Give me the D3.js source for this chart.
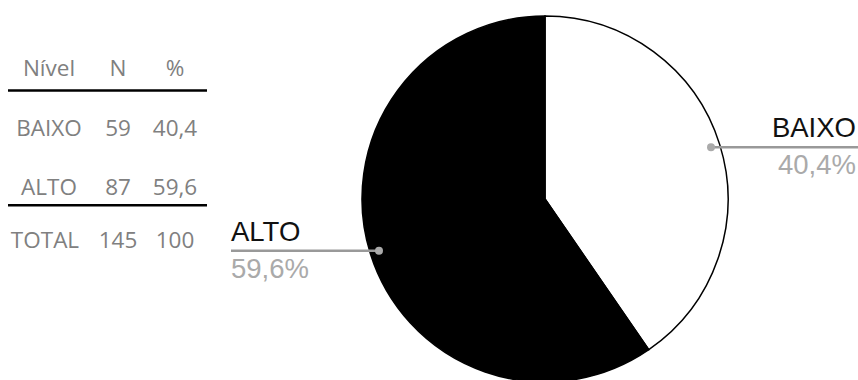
<!DOCTYPE html>
<html>
<head>
<meta charset="utf-8">
<script src="https://cdn.jsdelivr.net/npm/d3@7"></script>
<style>
  body { margin: 0; background: #fff; }
  svg { display: block; }
</style>
</head>
<body>
<div id="chart"></div>
<script>
// data
var niveis = ["BAIXO", "ALTO"];
var contagens = [59, 87];
var percentuais = [40.4, 59.6];
var tabelaCabecalho = ["Nível", "N", "%"];
var tabelaTotal = ["TOTAL", "145", "100"];

var width = 858;
var height = 380;

var svg = d3.select("#chart").append("svg")
    .attr("width", width)
    .attr("height", height);

var fmt = function (v) { return d3.format(".1f")(v).replace(".", ","); };

// ---- table on the left
var colX = [49, 118, 175];
var tbl = svg.append("g")
    .attr("font-family", "'Open Sans', sans-serif")
    .attr("font-size", 22.5)
    .attr("fill", "#808080")
    .attr("text-anchor", "middle");

var linhas = [tabelaCabecalho]
    .concat(niveis.map(function (n, i) { return [n, String(contagens[i]), fmt(percentuais[i])]; }))
    .concat([tabelaTotal]);
var baseY = [76, 136, 195, 248];

linhas.forEach(function (row, r) {
    row.forEach(function (cell, c) {
        tbl.append("text")
            .attr("x", colX[c] - (r === 3 && c === 0 ? 4 : 0))
            .attr("y", baseY[r])
            .text(cell);
    });
});

[90.5, 205.3].forEach(function (y) {
    svg.append("line")
        .attr("x1", 8).attr("x2", 207)
        .attr("y1", y).attr("y2", y)
        .attr("stroke", "#000")
        .attr("stroke-width", 2.5);
});

// ---- pie
var cx = 545, cy = 199, radius = 183;

var pie = d3.pie().sort(null).value(function (d) { return d.pct; });
var dados = niveis.map(function (n, i) { return { nivel: n, n: contagens[i], pct: percentuais[i] }; });
var arcs = pie(dados);

var fillColor = d3.scaleOrdinal().domain(niveis).range(["#ffffff", "#000000"]);

var arc = d3.arc().innerRadius(0).outerRadius(radius);
var labelArc = d3.arc().innerRadius(radius * 0.95).outerRadius(radius * 0.95);

var g = svg.append("g").attr("transform", "translate(" + cx + "," + cy + ")");

g.selectAll(".fatia")
    .data(arcs)
    .enter().append("path")
    .attr("class", "fatia")
    .attr("d", arc)
    .attr("fill", function (d) { return fillColor(d.data.nivel); })
    .attr("stroke", "#000")
    .attr("stroke-width", 1.5);

// callouts
var rotulos = g.selectAll(".rotulo")
    .data(arcs)
    .enter().append("g")
    .attr("class", "rotulo");

rotulos.each(function (d) {
    var sel = d3.select(this);
    var p = labelArc.centroid(d);
    var right = p[0] > 0;
    var endX = right ? width - cx : 231 - cx;
    var textX = right ? 856 - cx : 231 - cx;

    sel.append("line")
        .attr("x1", p[0]).attr("y1", p[1])
        .attr("x2", endX).attr("y2", p[1])
        .attr("stroke", "#999")
        .attr("stroke-width", 2.5);

    sel.append("circle")
        .attr("cx", p[0]).attr("cy", p[1])
        .attr("r", 4)
        .attr("fill", "#aaa");

    sel.append("text")
        .attr("x", textX)
        .attr("y", p[1] - 10)
        .attr("text-anchor", right ? "end" : "start")
        .attr("font-family", "Arial, 'Liberation Sans', sans-serif")
        .attr("font-size", 27.5)
        .attr("fill", "#111")
        .text(d.data.nivel);

    sel.append("text")
        .attr("x", textX)
        .attr("y", p[1] + 27)
        .attr("text-anchor", right ? "end" : "start")
        .attr("font-family", "Arial, 'Liberation Sans', sans-serif")
        .attr("font-size", 27.5)
        .attr("fill", "#aaaaaa")
        .text(fmt(d.data.pct) + "%");
});
</script>
</body>
</html>
